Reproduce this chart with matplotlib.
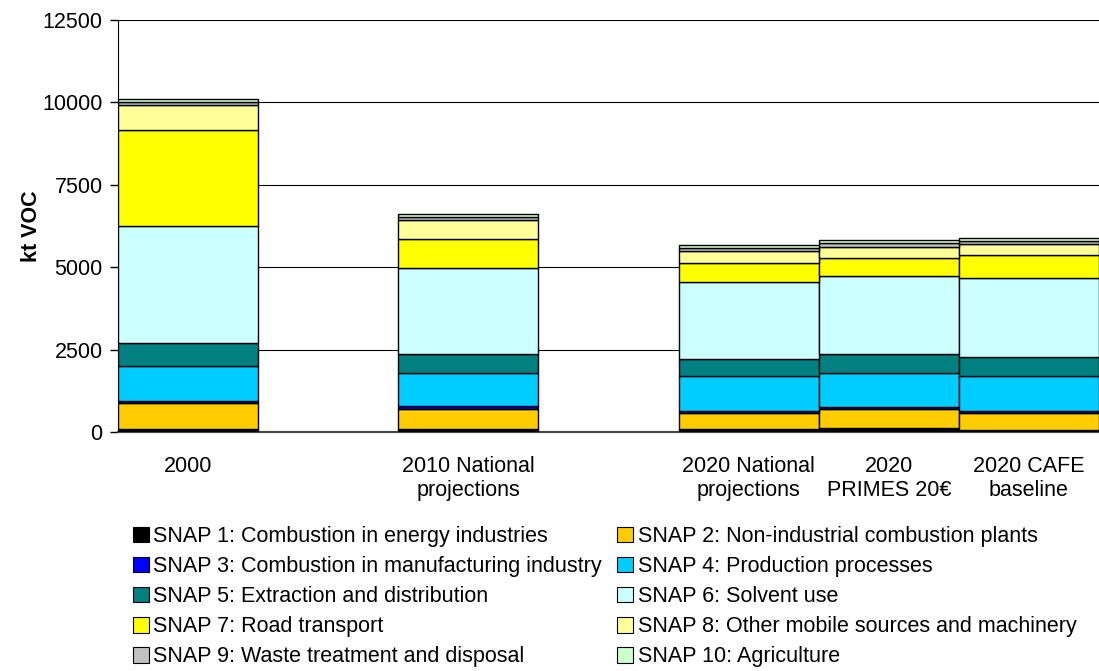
import matplotlib
matplotlib.use("Agg")
import matplotlib.pyplot as plt
import numpy as np
from matplotlib.patches import Patch

plt.rcParams['font.family'] = ['Liberation Sans', 'DejaVu Sans']

# Scenario labels and their slot positions on the x axis
scenarios = ["2000", "2010 National\nprojections", "2020 National\nprojections",
             "2020\nPRIMES 20€", "2020 CAFE\nbaseline"]
slots = [0, 2, 4, 5, 6]

sectors = [
    "SNAP 1: Combustion in energy industries",
    "SNAP 2: Non-industrial combustion plants",
    "SNAP 3: Combustion in manufacturing industry",
    "SNAP 4: Production processes",
    "SNAP 5: Extraction and distribution",
    "SNAP 6: Solvent use",
    "SNAP 7: Road transport",
    "SNAP 8: Other mobile sources and machinery",
    "SNAP 9: Waste treatment and disposal",
    "SNAP 10: Agriculture",
]
colors = ["#000000", "#FFCC00", "#0000FF", "#00CCFF", "#008080",
          "#CCFFFF", "#FFFF00", "#FFFF99", "#C0C0C0", "#CCFFCC"]

# Emissions in kt VOC per sector, one value per scenario
snap1 = [90, 100, 100, 110, 60]
snap2 = [790, 600, 465, 575, 510]
snap3 = [50, 90, 80, 70, 70]
snap4 = [1060, 1010, 1040, 1040, 1070]
snap5 = [720, 560, 535, 575, 575]
snap6 = [3545, 2625, 2343, 2363, 2395]
snap7 = [2920, 870, 567, 545, 687]
snap8 = [740, 565, 364, 335, 333]
snap9 = [100, 90, 90, 110, 100]
snap10 = [90, 100, 100, 100, 90]

series = [snap1, snap2, snap3, snap4, snap5, snap6, snap7, snap8, snap9, snap10]

FS = 15.5

fig = plt.figure(figsize=(10.99, 6.71), dpi=100)
ax = fig.add_axes([118 / 1099, 1 - 432 / 671, 981 / 1099, 412 / 671])

bottom = np.zeros(len(slots))
for vals, col in zip(series, colors):
    ax.bar(slots, vals, width=1.0, bottom=bottom, color=col,
           edgecolor="black", linewidth=1.0, zorder=3)
    bottom += np.array(vals)

ax.set_xlim(-0.5, 6.5)
ax.set_ylim(0, 12500)
ax.set_yticks(np.arange(0, 12501, 2500))
ax.yaxis.grid(True, color="black", linewidth=0.8, zorder=0)
ax.set_axisbelow(True)

ax.set_xticks(slots)
ax.set_xticklabels(scenarios, fontsize=FS, linespacing=1.2)
ax.tick_params(axis="x", length=0, pad=17)
ax.tick_params(axis="y", labelsize=FS, length=6, width=1, direction="out", pad=5)

for s in ["top", "right"]:
    ax.spines[s].set_visible(False)
ax.spines["left"].set_color("black")
ax.spines["bottom"].set_color("#444444")
ax.spines["bottom"].set_linewidth(1.5)

ax.set_ylabel("kt VOC", fontsize=FS, fontweight="bold")
ax.yaxis.set_label_coords(-76 / 981, 0.5)

# Legend laid out row-wise: odd SNAP codes left, even codes right
handles = [Patch(facecolor=c, edgecolor="black", linewidth=0.8) for c in colors]
order = [0, 2, 4, 6, 8, 1, 3, 5, 7, 9]
fig.legend([handles[i] for i in order], [sectors[i] for i in order],
           ncol=2, loc="upper left", bbox_to_anchor=(133 / 1099, 1 - 526 / 671),
           frameon=False, fontsize=FS, handlelength=0.75, handleheight=0.75,
           handletextpad=0.2, columnspacing=0.7, labelspacing=0.42,
           borderpad=0, borderaxespad=0)

fig.savefig("out.png", dpi=100)
